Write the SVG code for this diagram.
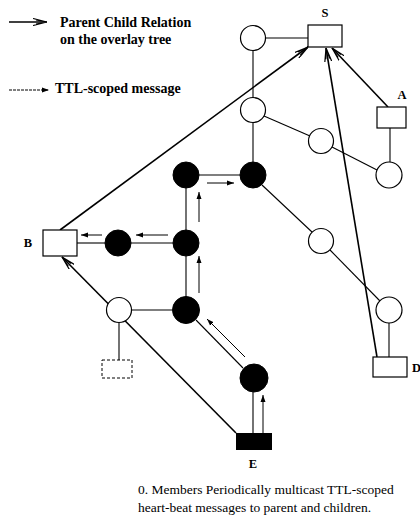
<svg xmlns="http://www.w3.org/2000/svg" width="420" height="518" viewBox="0 0 420 518">
  <style>
    .edge { stroke: #000; stroke-width: 1.1; fill: none; }
    .pc { stroke: #000; stroke-width: 1.6; fill: none; marker-end: url(#pcHead); }
    .ttl { stroke: #000; stroke-width: 1; fill: none; marker-end: url(#ttlHead); }
    .open { fill: #fff; stroke: #000; stroke-width: 1.2; }
    .member { fill: #000; stroke: #000; stroke-width: 1; }
    .box { fill: #fff; stroke: #000; stroke-width: 1.2; }
    .lbl { font-family: "Liberation Serif", "Times New Roman", serif; font-weight: bold; font-size: 12.5px; fill: #000; }
    .leg { font-family: "Liberation Serif", "Times New Roman", serif; font-weight: bold; font-size: 14px; fill: #000; }
    .txt { font-family: "Liberation Serif", "Times New Roman", serif; font-size: 13.5px; fill: #000; }
  </style>
  <defs>
    <marker id="pcHead" markerUnits="userSpaceOnUse" viewBox="0 0 14 8" refX="14" refY="4" markerWidth="14" markerHeight="8" orient="auto">
      <path d="M0,0.5 L14,4 L0,7.5 M3,2 L14,4 L3,6" stroke="#000" stroke-width="1.2" fill="none"/>
    </marker>
    <marker id="ttlHead" markerUnits="userSpaceOnUse" viewBox="0 0 7 6" refX="7" refY="3" markerWidth="7" markerHeight="6" orient="auto">
      <path d="M0,0.5 L7,3 L0,5.5 Z" fill="#000"/>
    </marker>
  </defs>

  <rect width="420" height="518" fill="#fff"/>

  <!-- legend -->
  <g id="legend">
    <line class="pc" x1="9" y1="22" x2="47" y2="22"/>
    <text class="leg" x="60" y="27">Parent Child Relation</text>
    <text class="leg" x="60" y="44">on the overlay tree</text>
    <line class="ttl" x1="9" y1="90" x2="49" y2="90" stroke-dasharray="3,1"/>
    <text class="leg" x="55" y="93">TTL-scoped message</text>
  </g>

  <!-- tree edges, parent-child pointers and TTL messages -->
  <g id="connectors">
    <line class="edge" x1="265" y1="38" x2="308" y2="38"/>
    <line class="edge" x1="253" y1="50" x2="253" y2="98"/>
    <line class="edge" x1="253" y1="122" x2="253" y2="162"/>
    <line class="edge" x1="264" y1="116" x2="310" y2="136"/>
    <line class="edge" x1="332" y1="147" x2="377" y2="170"/>
    <line class="edge" x1="390" y1="128" x2="390" y2="162"/>
    <line class="edge" x1="199" y1="175" x2="240" y2="175"/>
    <line class="edge" x1="262" y1="185" x2="312" y2="232"/>
    <line class="edge" x1="330" y1="250" x2="380" y2="301"/>
    <line class="edge" x1="389" y1="323" x2="389" y2="357"/>
    <line class="edge" x1="186" y1="188" x2="186" y2="230"/>
    <line class="edge" x1="131" y1="243" x2="173" y2="243"/>
    <line class="edge" x1="77" y1="243" x2="105" y2="243"/>
    <line class="edge" x1="186" y1="256" x2="186" y2="297"/>
    <line class="edge" x1="131" y1="310" x2="172" y2="310"/>
    <line class="edge" x1="119" y1="323" x2="119" y2="360"/>
    <line class="edge" x1="196" y1="320" x2="243" y2="368"/>
    <line class="edge" x1="253" y1="392" x2="253" y2="433"/>

    <line class="pc" x1="60" y1="230" x2="308" y2="47"/>
    <line class="pc" x1="236" y1="433" x2="62" y2="257"/>
    <line class="pc" x1="377" y1="357" x2="326" y2="48"/>
    <line class="pc" x1="388" y1="107" x2="332" y2="48"/>

    <line class="ttl" x1="207" y1="183" x2="234" y2="183"/>
    <line class="ttl" x1="199" y1="222" x2="199" y2="192"/>
    <line class="ttl" x1="199" y1="293" x2="199" y2="256"/>
    <line class="ttl" x1="168" y1="235" x2="136" y2="235"/>
    <line class="ttl" x1="102" y1="235" x2="81" y2="235"/>
    <line class="ttl" x1="245" y1="357" x2="207" y2="319"/>
    <line class="ttl" x1="263" y1="445" x2="263" y2="395"/>
  </g>

  <!-- nodes -->
  <g id="S">
    <rect class="box" x="308" y="25" width="34" height="22"/>
    <text class="lbl" x="325" y="17" text-anchor="middle">S</text>
  </g>
  <g id="A">
    <rect class="box" x="377" y="107" width="29" height="21"/>
    <text class="lbl" x="402" y="99" text-anchor="middle">A</text>
  </g>
  <g id="B">
    <rect class="box" x="43" y="230" width="34" height="26"/>
    <text class="lbl" x="28" y="247" text-anchor="middle">B</text>
  </g>
  <g id="D">
    <rect class="box" x="373" y="357" width="34" height="20"/>
    <text class="lbl" x="412" y="372">D</text>
  </g>
  <g id="E">
    <rect x="236" y="433" width="36" height="17" fill="#000"/>
    <text class="lbl" x="253" y="468" text-anchor="middle">E</text>
  </g>
  <g id="absent">
    <rect x="102" y="360" width="30" height="18" fill="#fff" stroke="#000" stroke-width="1" stroke-dasharray="3,2"/>
  </g>

  <g id="n1"><circle class="open" cx="253" cy="38" r="12.5"/></g>
  <g id="n2"><circle class="open" cx="253" cy="110" r="12.5"/></g>
  <g id="n3"><circle class="open" cx="321" cy="141" r="12.5"/></g>
  <g id="n4"><circle class="open" cx="389" cy="175" r="13"/></g>
  <g id="n5"><circle class="open" cx="321" cy="241" r="12.5"/></g>
  <g id="n6"><circle class="open" cx="389" cy="310" r="13"/></g>
  <g id="n7"><circle class="open" cx="119" cy="310" r="12.5"/></g>

  <g id="m1"><circle class="member" cx="253" cy="175" r="13"/></g>
  <g id="m2"><circle class="member" cx="186" cy="175" r="13"/></g>
  <g id="m3"><circle class="member" cx="186" cy="243" r="13"/></g>
  <g id="m4"><circle class="member" cx="118" cy="243" r="13"/></g>
  <g id="m5"><circle class="member" cx="186" cy="310" r="13.5"/></g>
  <g id="m6"><circle class="member" cx="254" cy="378" r="14"/></g>

  <!-- caption -->
  <g id="caption">
    <text class="txt" x="138" y="494">0. Members Periodically multicast TTL-scoped</text>
    <text class="txt" x="138" y="512">heart-beat messages to parent and children.</text>
  </g>
</svg>
